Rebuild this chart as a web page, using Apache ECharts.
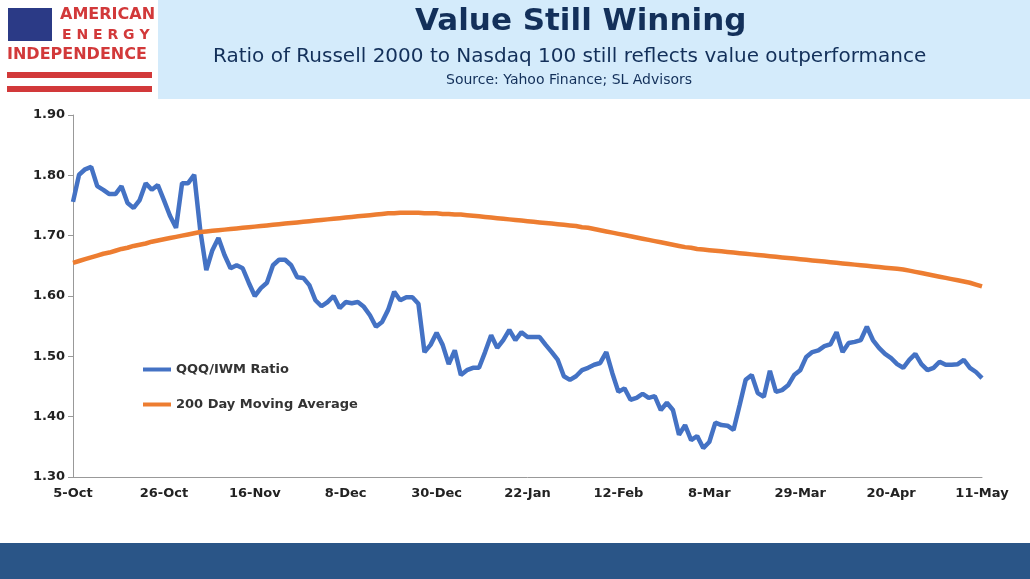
<!DOCTYPE html>
<html>
<head>
<meta charset="utf-8">
<title>Value Still Winning</title>
<style>html,body{margin:0;padding:0;background:#fff;}</style>
</head>
<body>
<div id="main" style="width:1030px;height:579px;"></div>
<script src="https://cdn.jsdelivr.net/npm/echarts@6/dist/echarts.min.js"></script>
<script>
// US market holidays in the window, trading days start 5-Oct-2020
var startDate = '2020-10-05';
var holidays = ['2020-11-26', '2020-12-25', '2021-01-01', '2021-01-18', '2021-02-15', '2021-04-02'];
var monthNames = ['Jan','Feb','Mar','Apr','May','Jun','Jul','Aug','Sep','Oct','Nov','Dec'];

var ratio = [1.756,1.801,1.810,1.814,1.782,1.776,1.769,1.769,1.782,1.754,1.746,1.759,1.787,1.776,1.784,1.759,1.733,1.713,1.787,1.787,
  1.801,1.709,1.643,1.676,1.696,1.668,1.646,1.651,1.646,1.622,1.600,1.613,1.622,1.651,1.660,1.660,1.651,1.631,1.630,1.618,
  1.593,1.583,1.590,1.600,1.580,1.590,1.588,1.590,1.582,1.568,1.549,1.557,1.577,1.607,1.593,1.598,1.598,1.587,1.507,1.519,
  1.539,1.519,1.487,1.510,1.469,1.477,1.481,1.481,1.507,1.535,1.514,1.527,1.544,1.527,1.540,1.532,1.532,1.532,1.519,1.507,
  1.494,1.467,1.461,1.467,1.477,1.481,1.486,1.489,1.507,1.472,1.441,1.447,1.428,1.431,1.438,1.431,1.434,1.411,1.423,1.411,
  1.370,1.386,1.361,1.368,1.348,1.358,1.390,1.386,1.385,1.378,1.419,1.461,1.469,1.439,1.433,1.476,1.441,1.444,1.452,1.469,
  1.477,1.499,1.507,1.510,1.517,1.520,1.540,1.507,1.522,1.524,1.527,1.549,1.527,1.514,1.504,1.497,1.487,1.481,1.494,1.504,
  1.487,1.477,1.481,1.491,1.486,1.486,1.487,1.494,1.481,1.474,1.464];

var movingAvg = [1.655,1.658,1.661,1.664,1.667,1.670,1.672,1.675,1.678,1.680,1.683,1.685,1.687,1.690,1.692,1.694,1.696,1.698,1.700,1.702,1.704,1.706,
  1.707,1.708,1.709,1.710,1.711,1.712,1.713,1.714,1.715,1.716,1.717,1.718,1.719,1.720,1.721,1.722,1.723,1.724,1.725,1.726,1.727,1.728,1.729,1.730,1.731,1.732,1.733,1.734,1.735,1.736,1.737,
  1.737,1.738,1.738,1.738,1.738,1.737,1.737,1.737,1.736,1.736,1.735,1.735,1.734,1.733,1.732,1.731,1.730,1.729,
  1.728,1.727,1.726,1.725,1.724,1.723,1.722,1.721,1.720,1.719,1.718,1.717,1.716,1.714,1.713,1.711,1.709,1.707,1.705,1.703,1.701,1.699,1.697,1.695,1.693,1.691,1.689,1.687,1.685,1.683,
  1.681,1.680,1.678,1.677,1.676,1.675,1.674,1.673,1.672,1.671,1.670,1.669,1.668,1.667,1.666,1.665,1.664,1.663,1.662,1.661,1.660,1.659,1.658,1.657,1.656,1.655,1.654,1.653,1.652,1.651,
  1.650,1.649,1.648,1.647,1.646,1.645,1.644,1.642,1.640,1.638,1.636,1.634,1.632,1.630,1.628,1.626,1.624,1.622,1.619,1.616];

// build trading-day labels
var categories = [];
var d = new Date(startDate + 'T12:00:00Z');
while (categories.length < ratio.length) {
  var iso = d.toISOString().slice(0, 10);
  var wd = d.getUTCDay();
  if (wd !== 0 && wd !== 6 && holidays.indexOf(iso) < 0) {
    categories.push(d.getUTCDate() + '-' + monthNames[d.getUTCMonth()]);
  }
  d.setUTCDate(d.getUTCDate() + 1);
}

var myChart = echarts.init(document.getElementById('main'));
var font = '"DejaVu Sans", Verdana, sans-serif';

var option = {
  backgroundColor: '#fff',
  animation: false,
  grid: { left: 73, right: 48, top: 115, bottom: 102 },
  legend: {
    orient: 'vertical', left: 138, top: 358, itemGap: 22, itemWidth: 28, itemHeight: 4,
    icon: 'rect',
    textStyle: { fontFamily: font, fontWeight: 'bold', fontSize: 13, color: '#333' },
    data: ['QQQ/IWM Ratio', '200 Day Moving Average']
  },
  xAxis: {
    type: 'category', data: categories, boundaryGap: false,
    axisLine: { lineStyle: { color: '#999' } },
    axisTick: { show: false },
    axisLabel: { interval: 14, color: '#222', fontFamily: font, fontWeight: 'bold', fontSize: 13, margin: 10 }
  },
  yAxis: {
    type: 'value', min: 1.3, max: 1.9, interval: 0.1,
    axisLine: { show: true, lineStyle: { color: '#999' } },
    axisTick: { show: true, inside: false, length: 5, lineStyle: { color: '#999' } },
    splitLine: { show: false },
    axisLabel: { color: '#222', fontFamily: font, fontWeight: 'bold', fontSize: 13, formatter: function (v) { return v.toFixed(2); } }
  },
  series: [
    { name: 'QQQ/IWM Ratio', type: 'line', data: ratio, showSymbol: false,
      lineStyle: { color: '#4472c4', width: 4.5 }, itemStyle: { color: '#4472c4' } },
    { name: '200 Day Moving Average', type: 'line', data: movingAvg, showSymbol: false,
      lineStyle: { color: '#ed7d31', width: 4.5 }, itemStyle: { color: '#ed7d31' } }
  ],
  graphic: [
    { type: 'rect', shape: { x: 158, y: 0, width: 872, height: 99 }, style: { fill: '#d4ebfb' } },
    { type: 'text', left: 415, top: 6, style: { text: 'Value Still Winning', fill: '#13305a', font: 'bold 31px ' + font } },
    { type: 'text', left: 213, top: 47, style: { text: 'Ratio of Russell 2000 to Nasdaq 100 still reflects value outperformance', fill: '#13305a', font: '20px ' + font } },
    { type: 'text', left: 446, top: 73, style: { text: 'Source: Yahoo Finance; SL Advisors', fill: '#13305a', font: '14px ' + font } },
    // logo
    { type: 'rect', shape: { x: 8, y: 8, width: 44, height: 33 }, style: { fill: '#2b3a86' } },
    { type: 'text', left: 60, top: 7, style: { text: 'AMERICAN', fill: '#d2393a', font: 'bold 16px ' + font } },
    { type: 'text', left: 62, top: 28, style: { text: 'E N E R G Y', fill: '#d2393a', font: 'bold 14px ' + font } },
    { type: 'text', left: 7, top: 47, style: { text: 'INDEPENDENCE', fill: '#d2393a', font: 'bold 16px ' + font } },
    { type: 'rect', shape: { x: 7, y: 72, width: 145, height: 6 }, style: { fill: '#d2393a' } },
    { type: 'rect', shape: { x: 7, y: 86, width: 145, height: 6 }, style: { fill: '#d2393a' } },
    // footer band
    { type: 'rect', shape: { x: 0, y: 543, width: 1030, height: 36 }, style: { fill: '#2a5587' } }
  ]
};

myChart.setOption(option);
</script>
</body>
</html>
